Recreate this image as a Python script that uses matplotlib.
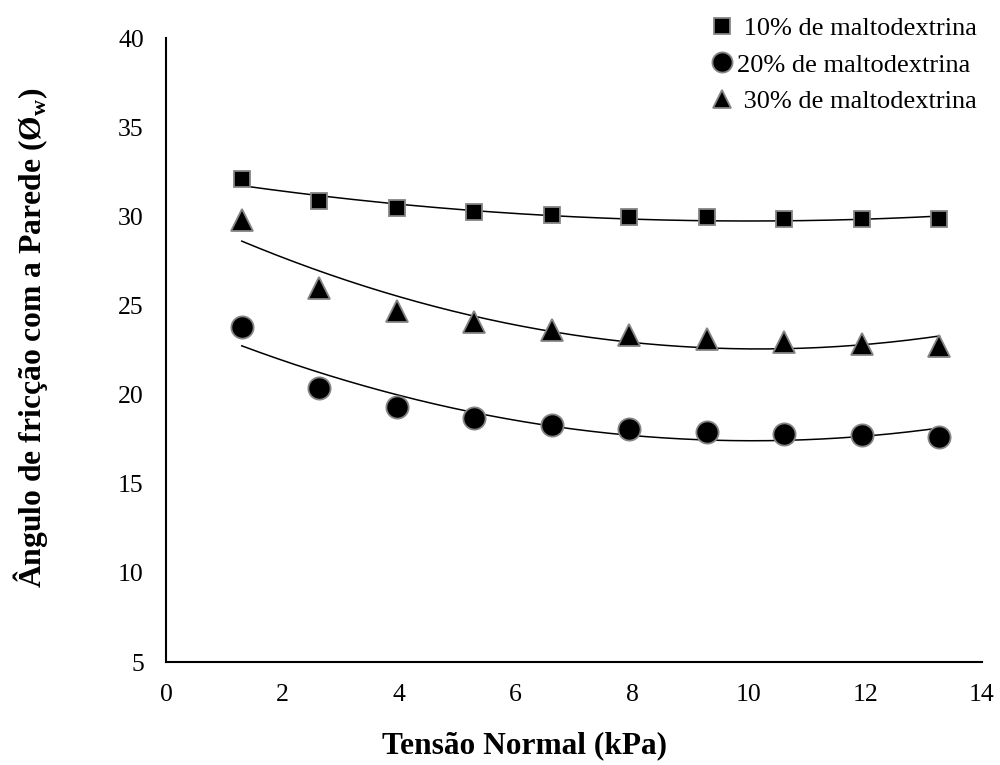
import numpy as np
from matplotlib import pyplot as plt

plt.rcParams['font.family'] = ['Liberation Serif', 'DejaVu Serif']
plt.rcParams['mathtext.fontset'] = 'custom'
plt.rcParams['mathtext.rm'] = 'Liberation Serif'
plt.rcParams['mathtext.bf'] = 'Liberation Serif:bold'

tensao = [1.3, 2.63, 3.96, 5.29, 6.62, 7.95, 9.28, 10.61, 11.94, 13.27]
malto10 = [32.1, 30.85, 30.45, 30.25, 30.05, 29.95, 29.95, 29.85, 29.85, 29.85]
malto20 = [23.8, 20.4, 19.3, 18.7, 18.3, 18.05, 17.9, 17.8, 17.75, 17.6]
malto30 = [29.8, 26.0, 24.7, 24.1, 23.65, 23.35, 23.1, 22.95, 22.85, 22.75]

labels = [' 10% de maltodextrina', '20% de maltodextrina', ' 30% de maltodextrina']
markers = ['s', 'o', '^']
sizes = [11.5, 16, 16]
leg_sizes = [12, 14.5, 13]

fig = plt.figure(figsize=(10, 7.65), dpi=100)
ax = fig.add_axes([0.166, 0.1346, 0.816, 0.8156])

xs = np.linspace(min(tensao), max(tensao), 200)
for serie, lab, mk, ms in zip([malto10, malto20, malto30], labels, markers, sizes):
	ax.plot(tensao, serie, linestyle='none', marker=mk, markersize=ms, color='black',
		markeredgecolor='#858585', markeredgewidth=1.3, label=lab, zorder=3)
	coef = np.polyfit(tensao, serie, 2)
	ax.plot(xs, np.polyval(coef, xs), color='black', linewidth=1.1, zorder=2)

ax.set_xlim(0, 14)
ax.set_ylim(5, 40)
ax.set_xticks(range(0, 15, 2))
ax.set_yticks(range(5, 41, 5))
ax.tick_params(length=0, labelsize=18.5)
ax.tick_params(axis='x', pad=16)
ax.tick_params(axis='y', pad=16)
for s in ['top', 'right']:
	ax.spines[s].set_visible(False)
for s in ['left', 'bottom']:
	ax.spines[s].set_linewidth(1.5)

fig.text(0.525, 0.025, 'Tensão Normal (kPa)', fontsize=22.6, fontweight='bold', ha='center', va='center')
fig.text(0.031, 0.559, 'Ângulo de fricção com a Parede (Ø$_\\mathbf{w}$)', fontsize=22.8, fontweight='bold',
	rotation=90, ha='center', va='center')

leg = ax.legend(loc='upper right', bbox_to_anchor=(0.987, 0.992), bbox_transform=fig.transFigure,
	frameon=False, fontsize=19, handletextpad=0.15, labelspacing=0.49,
	borderaxespad=0, handlelength=0.8)
for h, ms in zip(leg.legend_handles, leg_sizes):
	h.set_markersize(ms)

fig.savefig('out.png', dpi=100)
